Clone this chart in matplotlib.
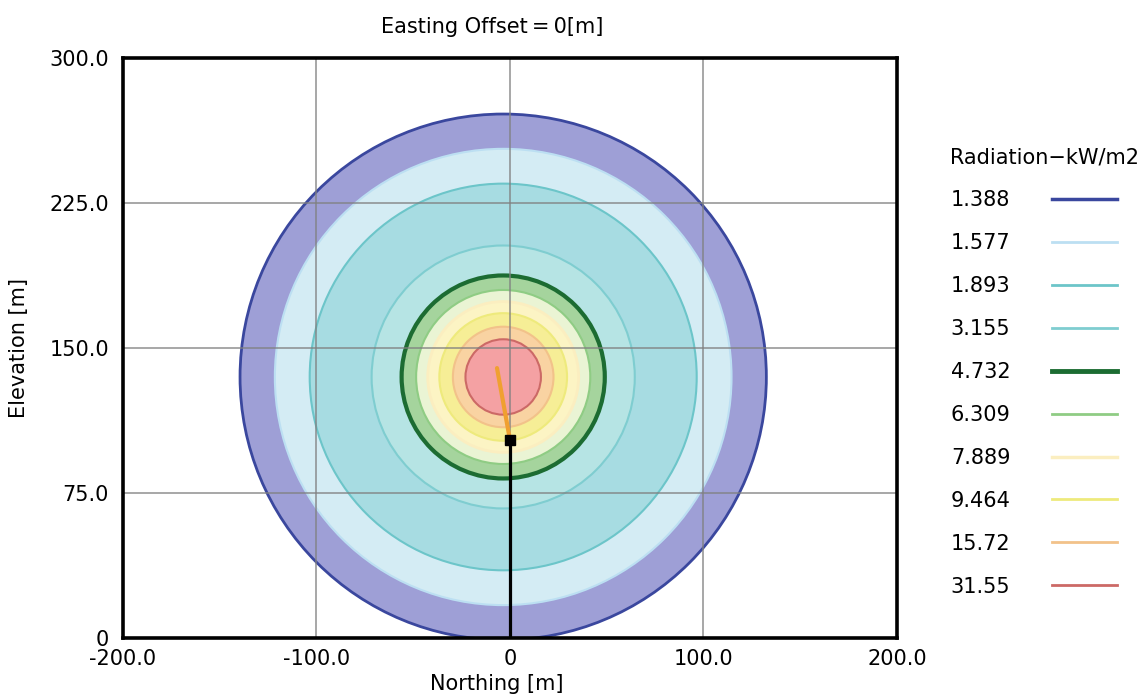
#!/usr/bin/env python3
import matplotlib

matplotlib.use("Agg")

import matplotlib.pyplot as plt
from matplotlib.lines import Line2D
from matplotlib.patches import Circle

# radiation contour levels (kW/m2) and their radii (m) around the flame centre
LEVELS = [1.388, 1.577, 1.893, 3.155, 4.732, 6.309, 7.889, 9.464, 15.72, 31.55]
RADII = [136.0, 118.0, 100.0, 68.0, 52.5, 45.0, 39.0, 33.0, 26.0, 19.5]
CENTER_NORTHING = -3.5
CENTER_ELEVATION = 135.0

# flare stack and flame
STACK_NORTHING = 0.0
STACK_HEIGHT = 102.4
FLAME_TIP_NORTHING = -6.7
FLAME_TIP_ELEVATION = 139.6

X_TICKS = [-200, -100, 0, 100, 200]
X_TICK_LABELS = ["-200.0", "-100.0", "0", "100.0", "200.0"]
Y_TICKS = [0, 75, 150, 225, 300]
Y_TICK_LABELS = ["0", "75.0", "150.0", "225.0", "300.0"]

FILL_COLORS = ["#9e9fd6", "#d4ecf4", "#a7dce2", "#b6e4e4", "#a5d49d",
               "#eaf4d4", "#fcf4c4", "#f6ee96", "#f9d3a2", "#f4a1a3"]
LINE_COLORS = ["#3a479e", "#bcdff2", "#6cc5c9", "#7fcdd0", "#1c6c32",
               "#8fcc84", "#fbeec0", "#eeea7c", "#f2c28a", "#cc6966"]
LINE_WIDTHS = [2.0, 1.5, 1.5, 1.5, 3.0, 1.5, 2.0, 1.5, 1.5, 1.5]

plt.rcParams.update({"font.family": "DejaVu Sans", "font.size": 15})

fig = plt.figure(figsize=(11.46, 7.0), dpi=100)
ax = fig.add_axes([0.1073, 0.0886, 0.6754, 0.8286])

for r, fc, ec, lw in zip(RADII, FILL_COLORS, LINE_COLORS, LINE_WIDTHS):
    ax.add_patch(Circle((CENTER_NORTHING, CENTER_ELEVATION), r,
                        facecolor=fc, edgecolor=ec, linewidth=lw, zorder=1))

ax.plot([STACK_NORTHING, STACK_NORTHING], [0, STACK_HEIGHT],
        color="black", linewidth=2.3, zorder=4)
ax.plot([STACK_NORTHING, FLAME_TIP_NORTHING], [STACK_HEIGHT, FLAME_TIP_ELEVATION],
        color="#f0a030", linewidth=3.0, solid_capstyle="round", zorder=4)
ax.plot([STACK_NORTHING], [STACK_HEIGHT], marker="s", markersize=7,
        color="black", zorder=5)

ax.set_xlim(-200, 200)
ax.set_ylim(0, 300)
ax.set_xticks(X_TICKS)
ax.set_xticklabels(X_TICK_LABELS)
ax.set_yticks(Y_TICKS)
ax.set_yticklabels(Y_TICK_LABELS)
ax.tick_params(length=0, labelsize=15)
ax.tick_params(axis="x", pad=8)
ax.tick_params(axis="y", pad=10)
ax.grid(True, color="#808080", linewidth=1.3, alpha=0.75, zorder=3)
ax.set_axisbelow(False)
for spine in ax.spines.values():
    spine.set_linewidth(2.6)
    spine.set_color("black")
    spine.set_zorder(6)

ax.set_xlabel("Northing [m]", fontsize=15)
ax.xaxis.set_label_coords((497 - 123) / 774, -0.062)
ax.set_ylabel("Elevation [m]", fontsize=15)
ax.yaxis.set_label_coords(-0.122, 0.5)

fig.text(492 / 1146, 1 - 27 / 700, "Easting Offset\u2009=\u20090[m]",
         ha="center", va="center", fontsize=15)

handles = [Line2D([], [], color=ec, linewidth=lw + 0.5)
           for ec, lw in zip(LINE_COLORS, LINE_WIDTHS)]
labels = [f"{v:.3f}" if v < 10 else f"{v:.2f}" for v in LEVELS]
fig.legend(handles, labels, title="Radiation\u2212kW/m2", loc="upper left",
           bbox_to_anchor=(940 / 1146, 1 - 137 / 700), frameon=False,
           markerfirst=False, alignment="left", handlelength=3.1,
           handletextpad=2.0, labelspacing=1.1, fontsize=15,
           title_fontsize=15, borderpad=0.0)

fig.savefig("out.png", dpi=100)
